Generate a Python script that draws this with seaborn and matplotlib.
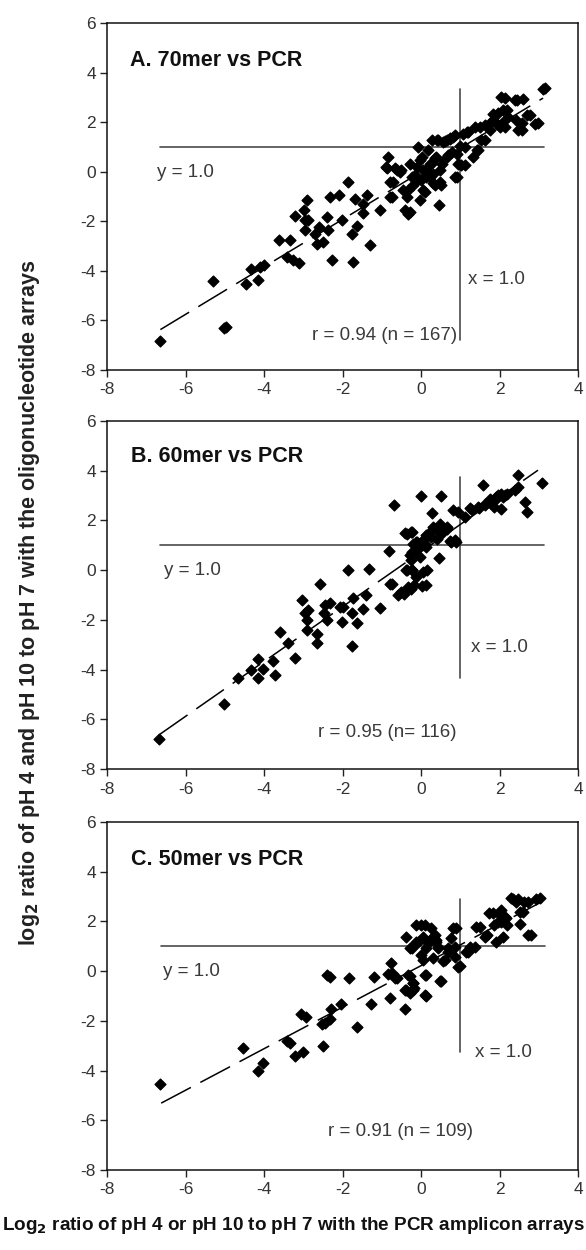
import matplotlib
matplotlib.use("Agg")
import matplotlib.pyplot as plt
import seaborn as sns
import numpy as np

# ---------------- data ----------------
a_x = [-6.64, -5.31, -5.01, -4.96, -4.46, -4.33, -4.15, -4.10, -4.01, -3.63, -3.33, -3.42, -3.25, -3.10,
       -3.22, -2.99, -2.91, -2.95, -2.95, -2.87, -2.70, -2.61, -2.66, -2.49, -2.40, -2.36, -2.32, -2.10,
       -2.27, -2.02, -1.85, -1.76, -1.72, -1.68, -1.62, -1.49, -1.47, -1.38, -1.31, -1.04, -0.79, -0.83,
       -0.89, -0.79, -0.62, -0.53, -0.45, -0.41, -0.32, -0.36, -0.28, -0.24, -0.20, -0.11, -0.07, -0.03,
       0.02, 0.06, 0.10, 0.14, 0.19, 0.23, 0.27, 0.31, 0.36, 0.38, 0.44, 0.47, 0.48, 0.53, 0.57, 0.65,
       0.74, 0.70, 0.87, 0.82, 0.91, 0.95, 1.03, 1.08, 1.12, 1.20, 1.33, 1.42, 1.37, 1.54, 1.63, 1.76,
       1.84, 1.93, 2.01, 2.05, 2.10, 2.22, 2.39, 2.43, 2.48, 2.60, 2.69, 2.90, 3.10,
       -0.87, -0.65, -0.52, -0.71, -0.75, -0.32, -0.28, -0.15, -0.10, -0.03, 0.00, 0.06, 0.14, 0.23,
       0.27, 0.31, 0.35, 0.40, 0.48, 0.52, 0.61, 0.65, 0.74, 0.78, 0.86, 0.91, 0.99, 1.12, 1.17, 1.46,
       1.50, 1.63, 1.76, 1.84, 1.97, 2.06, 2.14, 2.18, 2.14, 2.44, 2.57, 2.57, 2.78, 2.99, 3.16]
a_y = [-6.83, -4.42, -6.30, -6.25, -4.54, -3.91, -4.35, -3.84, -3.78, -2.77, -2.77, -3.44, -3.58, -3.67,
       -1.80, -1.56, -1.16, -1.96, -2.37, -1.96, -2.50, -2.23, -2.90, -2.84, -1.83, -2.37, -1.02, -0.95,
       -3.58, -1.96, -0.42, -2.50, -3.64, -1.09, -2.20, -1.67, -1.29, -0.95, -2.97, -1.56, -1.02, 0.59,
       0.19, -0.42, 0.05, -0.01, -0.75, -1.56, -1.69, -1.02, 0.32, -0.21, -0.55, -0.35, 0.99, -1.16,
       0.59, 0.05, -0.82, -0.21, 0.86, 0.32, 1.26, -0.08, -0.55, 0.59, 1.26, -1.36, -0.42, 0.32, 1.20, 1.26,
       1.33, 0.66, -0.21, 1.40, 0.73, 0.32, 0.26, 1.53, 0.99, 1.60, 0.59, 0.86, 1.80, 1.26, 1.87, 1.67,
       2.34, 1.94, 1.80, 3.01, 2.47, 2.20, 2.88, 2.07, 1.67, 2.94, 2.27, 1.94, 3.35,
       0.14, 0.14, 0.08, -0.40, -1.00, -0.74, -1.61, -0.13, 0.21, 0.47, -0.33, -0.74, 0.08, -0.20,
       0.34, -0.47, 0.54, 1.28, 0.08, -0.53, 1.22, 0.61, 1.35, 0.81, 1.48, -0.20, 1.02, 0.27, 1.62, 0.88,
       1.82, 1.28, 1.96, 2.09, 2.36, 1.96, 1.82, 2.49, 2.96, 2.89, 1.96, 1.69, 2.29, 1.96, 3.37]

b_x = [-6.68, -5.01, -4.65, -4.32, -4.15, -4.15, -4.03, -3.76, -3.72, -3.59, -3.40, -3.21, -3.04, -2.96,
       -2.91, -2.89, -2.91, -2.66, -2.66, -2.57, -2.46, -2.45, -2.40, -2.32, -2.06, -2.02, -1.98, -1.86,
       -1.77, -1.73, -1.75, -1.62, -1.47, -1.39, -1.33, -1.05, -0.82, -0.79, -0.68, -0.58, -0.50, -0.41,
       -0.37, -0.33, -0.29, -0.24, -0.26, -0.20, -0.16, -0.11, -0.07, -0.03, 0.01, 0.06, 0.03, 0.10,
       0.14, 0.23, 0.31, 0.27, 0.40, 0.48, 0.46, 0.52, 0.65, 0.73, 0.82, 0.86, 1.12, 1.29, 1.46, 1.58,
       1.63, 1.75, 1.79, 1.88, 1.96, 2.05, 2.09, 2.18, 2.39, 2.46, 2.64, 2.71, 3.09,
       -0.22, -0.35, -0.13, -0.05, 0.04, 0.12, 0.25, 0.37, 0.50, 0.67, 0.76, 0.88, 0.93, -0.22, -0.26,
       -0.35, -0.22, -0.13, 0.16, 0.12, -0.43, -0.26, -0.18, -0.73, 1.26, 1.47, 1.64, 1.77, 1.90, 2.03,
       2.15, 1.86, 2.48]
b_y = [-6.80, -5.38, -4.35, -4.02, -3.59, -4.35, -3.99, -3.64, -4.22, -2.48, -2.95, -3.55, -1.20, -1.74,
       -2.01, -1.61, -2.41, -2.57, -2.95, -0.54, -1.74, -1.41, -2.01, -1.34, -1.47, -2.07, -1.47, 0.00,
       -1.74, -1.14, -3.04, -2.11, -1.58, -1.00, 0.03, -1.51, 0.78, -0.54, 2.61, -0.98, -0.87, 1.51,
       0.00, -0.67, 0.60, 0.00, 1.54, 1.07, 0.80, 1.14, 0.94, 0.54, 2.97, -0.07, -0.63, 1.07,
       1.41, 1.54, 1.74, 2.28, 1.27, 1.87, 0.50, 2.97, 1.67, 1.18, 2.41, 1.20, 2.14, 2.41, 2.54, 3.41,
       2.61, 2.88, 2.71, 2.81, 3.01, 2.44, 2.95, 3.08, 3.21, 3.82, 2.74, 2.34, 3.51,
       1.54, 1.47, 1.14, 0.98, 1.20, 0.94, 1.34, 1.67, 1.47, 1.74, 1.14, 1.14, 2.35, 0.74, 0.40,
       0.00, 0.00, -0.27, 0.00, -0.60, -0.94, -0.74, -0.60, -0.54, 2.48, 2.48, 2.68, 2.75, 2.95, 3.08,
       3.01, 2.55, 3.35]

c_x = [-6.65, -4.53, -4.15, -4.02, -3.41, -3.33, -3.22, -3.00, -3.06, -2.93, -2.53, -2.49, -2.45, -2.40,
       -2.33, -2.32, -2.30, -2.04, -1.84, -1.64, -1.28, -1.21, -0.80, -0.77, -0.83, -0.62, -0.41, -0.41,
       -0.37, -0.29, -0.33, -0.29, -0.20, -0.18, -0.13, -0.13, -0.01, 0.05, 0.01, 0.05, 0.10, 0.10,
       0.14, 0.22, 0.26, 0.31, 0.35, 0.39, 0.43, 0.48, 0.56, 0.69, 0.77, 0.82, 0.86, 0.94, 1.15, 1.25,
       1.39, 1.62, 1.74, 1.87, 1.91, 1.98, 2.04, 2.04, 2.08, 2.17, 2.29, 2.42, 2.51, 2.51, 2.63, 2.72, 2.93,
       -0.75, -0.66, -0.28, -0.20, -0.37, -0.20, 0.14, 0.14, 0.52, -0.24, -0.07, 0.10, 0.18, 0.31, 0.39,
       0.44, 0.61, 0.69, 0.86, 0.90, 0.99, 1.20, 1.37, 1.50, 1.67, 1.84, 1.97, 2.14, 2.18, 2.34, 2.47,
       2.60, 2.73, 2.81, 3.03]
c_y = [-4.56, -3.10, -4.00, -3.70, -2.81, -2.91, -3.40, -3.27, -1.74, -1.85, -2.14, -3.01, -2.07, -0.17,
       -0.25, -1.94, -1.54, -1.32, -0.28, -2.25, -1.34, -0.25, -1.10, 0.32, -0.12, -0.28, -1.54, -0.74,
       1.38, 0.92, -0.17, -0.88, -0.48, -0.68, 1.85, 1.18, 1.85, 1.38, 0.65, 0.45, -0.15, -0.97,
       0.92, 1.25, 1.72, 0.52, 1.45, 1.18, 0.92, -0.39, 0.39, 0.92, 1.32, 1.72, 0.55, 0.16, 0.78, 0.98,
       1.78, 1.38, 2.35, 1.85, 1.16, 2.31, 2.45, 1.98, 1.38, 2.12, 2.94, 2.78, 2.38, 1.88, 2.78, 1.45, 2.91,
       -0.08, -0.28, -0.21, -0.48, -0.74, -0.74, -0.15, -1.00, -0.38, 0.92, 1.18, 1.85, 1.12, 1.38, 1.25,
       0.98, 0.45, 0.78, 0.98, 1.72, 0.19, 0.78, 0.98, 1.78, 1.45, 2.32, 1.98, 2.18, 1.85, 2.91, 2.91,
       2.38, 2.78, 1.45, 2.94]

panel_titles = ["A. 70mer vs PCR", "B. 60mer vs PCR", "C. 50mer vs PCR"]
r_labels = ["r = 0.94 (n = 167)", "r = 0.95 (n= 116)", "r = 0.91 (n = 109)"]

# regression line end points [x0, x1], [y0, y1]
fit_x = [[-6.64, 3.11], [-6.65, 2.98], [-6.62, 3.10]]
fit_y = [[-6.37, 2.97], [-6.60, 4.02], [-5.31, 2.81]]

# reference lines: y = 1.0 spans, x = 1.0 spans
hline_x = [[-6.65, 3.13], [-6.65, 3.13], [-6.62, 3.16]]
vline_y = [[3.33, -6.80], [3.75, -4.35], [2.91, -3.27]]

x_ticks = [-8, -6, -4, -2, 0, 2, 4]
y_ticks = [-8, -6, -4, -2, 0, 2, 4, 6]

# ---------------- style ----------------
sns.set_style("ticks")
plt.rcParams['font.family'] = ['Liberation Sans', 'DejaVu Sans']

fig = plt.figure(figsize=(5.86, 12.5), dpi=100)

left = 107 / 586
width = (578 - 107) / 586
panel_px = [(23, 370), (421, 769), (822, 1170)]

annot = [
    ((-6.73, -0.05), (1.20, -4.33), (-2.78, -6.60), (0.049, 0.893)),
    ((-6.56, 0.00), (1.28, -3.10), (-2.63, -6.53), (0.050, 0.897)),
    ((-6.58, 0.00), (1.37, -3.27), (-2.37, -6.46), (0.051, 0.892)),
]

xs = [a_x, b_x, c_x]
ys = [a_y, b_y, c_y]
txt_col = '#3a3a3a'
line_col = '#4a4a4a'

for i in range(3):
    top, bot = panel_px[i]
    ax = fig.add_axes([left, 1 - bot / 1250, width, (bot - top) / 1250])
    sns.scatterplot(x=xs[i], y=ys[i], ax=ax, marker='D', s=30, color='black',
                    edgecolor='black', linewidth=1.0, zorder=3)
    ax.plot(fit_x[i], fit_y[i], color='black', lw=1.1, linestyle=(0, (22, 7)), zorder=2)
    ax.plot(hline_x[i], [1.0, 1.0], color=line_col, lw=1.2, zorder=1)
    ax.plot([1.0, 1.0], vline_y[i], color=line_col, lw=1.2, zorder=1)

    (tx1, ty1), (tx2, ty2), (tx3, ty3), (ttx, tty) = annot[i]
    ax.text(tx1, ty1, "y = 1.0", fontsize=13.5, color=txt_col, ha='left', va='center')
    ax.text(tx2, ty2, "x = 1.0", fontsize=13.5, color=txt_col, ha='left', va='center')
    ax.text(tx3, ty3, r_labels[i], fontsize=13.5, color=txt_col, ha='left', va='center')
    ax.text(ttx, tty, panel_titles[i], transform=ax.transAxes, fontsize=15.5,
            fontweight='bold', color='#111111', ha='left', va='center')

    ax.set_xlim(-8, 4)
    ax.set_ylim(-8, 6)
    ax.set_xticks(x_ticks)
    ax.set_yticks(y_ticks)
    ax.set_xticklabels([str(t) for t in x_ticks])
    ax.set_yticklabels([str(t) for t in y_ticks])
    ax.tick_params(axis='both', direction='out', length=5, width=1, colors='#222222',
                   labelsize=12.5, labelcolor='#333333', pad=3)
    ax.tick_params(axis='x', pad=4)
    for sp in ax.spines.values():
        sp.set_visible(True)
        sp.set_color('#111111')
        sp.set_linewidth(1.1)
    ax.set_xlabel("")
    ax.set_ylabel("")

fig.text(30 / 586, 1 - 603 / 1250,
         r"log$_\mathbf{2}$ ratio of pH 4 and pH 10 to pH 7 with the oligonucleotide arrays",
         rotation=90, ha='center', va='center', fontsize=15.5, fontweight='bold', color='#222222')
fig.text(2 / 586, 1 - 1226 / 1250,
         r"Log$_\mathbf{2}$ ratio of pH 4 or pH 10 to pH 7 with the PCR amplicon arrays",
         ha='left', va='center', fontsize=13.6, fontweight='bold', color='#111111')

fig.savefig("out.png", dpi=100)
